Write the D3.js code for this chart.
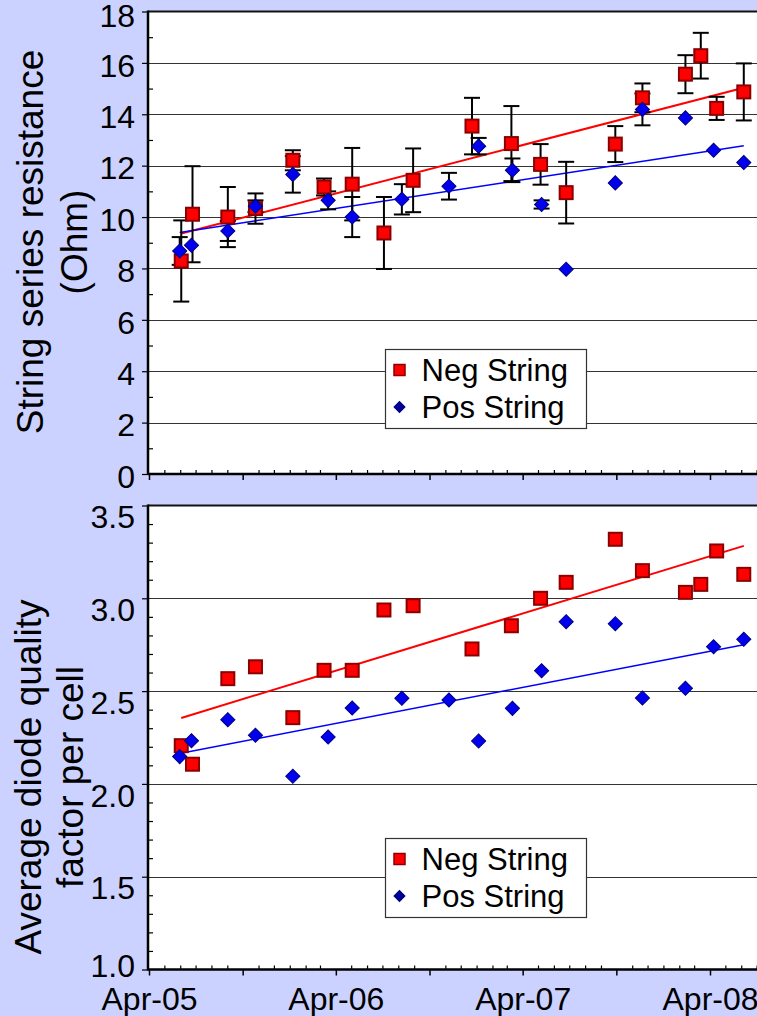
<!DOCTYPE html>
<html><head><meta charset="utf-8">
<script src="https://cdn.jsdelivr.net/npm/d3@7"></script>
<style>html,body{margin:0;padding:0;background:#CCD2FF;} svg{display:block;}</style>
</head><body><svg id="c" width="757" height="1016"></svg>
<script>
// ---------------- data ----------------
const seriesNames = ["Neg String", "Pos String"];
const negDates = ["2005-06-03","2005-06-25","2005-09-02","2005-10-26","2006-01-07","2006-03-09","2006-05-03","2006-07-04","2006-08-30","2006-12-23","2007-03-10","2007-05-06","2007-06-25","2007-09-29","2007-11-21","2008-02-13","2008-03-14","2008-04-14","2008-06-06"];
const negResistance = [8.29,10.11,10.0,10.33,12.21,11.17,11.28,9.38,11.43,13.54,12.86,12.05,10.95,12.84,14.64,15.56,16.28,14.23,14.87];
const negResistanceErr = [1.58,1.87,1.17,0.59,0.39,0.33,1.41,1.40,1.24,1.10,1.46,0.79,1.20,0.70,0.56,0.74,0.89,0.45,1.11];
const negDiode = [2.206,2.106,2.567,2.631,2.357,2.612,2.612,2.937,2.960,2.727,2.852,3.0,3.086,3.318,3.149,3.032,3.075,3.255,3.129];

const posDates = ["2005-05-31","2005-06-23","2005-09-02","2005-10-26","2006-01-07","2006-03-17","2006-05-03","2006-08-08","2006-11-08","2007-01-05","2007-03-12","2007-05-08","2007-06-25","2007-09-29","2007-11-21","2008-02-13","2008-04-08","2008-06-06"];
const posResistance = [8.68,8.90,9.46,10.42,11.66,10.65,10.0,10.69,11.2,12.76,11.82,10.49,7.97,11.33,14.19,13.86,12.6,12.12];
const posResistanceErr = [0.54,0,0.39,0.23,0.71,0.35,0.78,0.59,0.52,0.32,0.46,0.16,0,0,0.62,0,0,0];
const posDiode = [2.147,2.233,2.346,2.262,2.041,2.253,2.409,2.461,2.452,2.231,2.407,2.610,2.874,2.863,2.463,2.515,2.739,2.779];

const resistanceTicks = [0,2,4,6,8,10,12,14,16,18];
const diodeTicks = [1.0,1.5,2.0,2.5,3.0,3.5];
const xTickLabels = ["Apr-05","Apr-06","Apr-07","Apr-08"];
const resistanceTitle = ["String series resistance","(Ohm)"];
const diodeTitle = ["Average diode quality","factor per cell"];

// ---------------- layout ----------------
const W = 757, H = 1016;
const FONT = "'Liberation Sans', Arial, Helvetica, sans-serif";
const AX = 148; // y-axis line x
const parse = d3.utcParse("%Y-%m-%d");
const parseLbl = d3.utcParse("%b-%y");
const nD = negDates.map(parse), pD = posDates.map(parse);
const labelDates = xTickLabels.map(parseLbl);

const x = d3.scaleUtc().domain([labelDates[0], labelDates[labelDates.length-1]]).range([149, 710]);
const xEnd = x.invert(W + 2);

const svg = d3.select("#c");
svg.append("rect").attr("width", W).attr("height", H).attr("fill", "#CCD2FF");

function regression(xs, ys) {
  const xv = xs.map(d => +d);
  const mx = d3.mean(xv), my = d3.mean(ys);
  let sxy = 0, sxx = 0;
  xv.forEach((v, i) => { sxy += (v - mx) * (ys[i] - my); sxx += (v - mx) * (v - mx); });
  const b = sxy / sxx, a = my - b * mx;
  const x0 = d3.min(xv), x1 = d3.max(xv);
  return [[new Date(x0), a + b * x0], [new Date(x1), a + b * x1]];
}

const panels = [
  { top: 11.5, bottom: 474, domain: [0, 18], ticks: resistanceTicks, minorStep: 1, fmt: d3.format("d"),
    neg: negResistance, pos: posResistance, negErr: negResistanceErr, posErr: posResistanceErr,
    title: resistanceTitle, titleY: 242, titleX: [43, 87], xLabels: false, legendY: 349.5,
    labelPos: yy => Math.max(yy + 2, 15.5) },
  { top: 505.5, bottom: 969.5, domain: [1, 3.5], ticks: diodeTicks, minorStep: 0.1, fmt: d3.format(".1f"),
    neg: negDiode, pos: posDiode, negErr: null, posErr: null,
    title: diodeTitle, titleY: 777, titleX: [41, 83], xLabels: true, legendY: 838.5,
    labelPos: yy => Math.min(yy + 11, 965) }
];

const diamond = d3.symbol(d3.symbolSquare, 100)();

panels.forEach(p => {
  const y = d3.scaleLinear().domain(p.domain).range([p.bottom, p.top]);
  const g = svg.append("g");

  // plot area
  g.append("rect").attr("x", AX).attr("y", p.top).attr("width", W - AX + 5).attr("height", p.bottom - p.top).attr("fill", "#fff");

  // gridlines
  g.selectAll("line.grid").data(p.ticks.filter(t => t > p.domain[0] && t < p.domain[1])).join("line")
    .attr("class", "grid").attr("x1", AX).attr("x2", W + 5)
    .attr("y1", d => Math.round(y(d)) + 0.5).attr("y2", d => Math.round(y(d)) + 0.5)
    .attr("stroke", "#333").attr("stroke-width", 1.2);

  // trend lines
  const line = d3.line().x(d => x(d[0])).y(d => y(d[1]));
  g.append("path").attr("d", line(regression(nD, p.neg))).attr("stroke", "#FF0000").attr("stroke-width", 2).attr("fill", "none");
  g.append("path").attr("d", line(regression(pD, p.pos))).attr("stroke", "#0000FF").attr("stroke-width", 1.5).attr("fill", "none");

  // error bars
  const errData = [];
  if (p.negErr) p.neg.forEach((v, i) => { if (p.negErr[i] > 0) errData.push([nD[i], v, p.negErr[i]]); });
  if (p.posErr) p.pos.forEach((v, i) => { if (p.posErr[i] > 0) errData.push([pD[i], v, p.posErr[i]]); });
  const eg = g.append("g").attr("stroke", "#000").attr("stroke-width", 2).attr("fill", "none");
  errData.forEach(d => {
    const cx = x(d[0]), yt = y(d[1] + d[2]), yb = y(d[1] - d[2]);
    eg.append("line").attr("x1", cx).attr("x2", cx).attr("y1", yt).attr("y2", yb);
    eg.append("line").attr("x1", cx - 8).attr("x2", cx + 8).attr("y1", yt).attr("y2", yt);
    eg.append("line").attr("x1", cx - 8).attr("x2", cx + 8).attr("y1", yb).attr("y2", yb);
  });

  // markers
  g.selectAll("rect.neg").data(p.neg).join("rect").attr("class", "neg")
    .attr("x", (d, i) => x(nD[i]) - 6.5).attr("y", d => y(d) - 6.5)
    .attr("width", 13).attr("height", 13)
    .attr("fill", "#FF0000").attr("stroke", "#8B0000").attr("stroke-width", 2);
  g.selectAll("path.pos").data(p.pos).join("path").attr("class", "pos")
    .attr("d", diamond)
    .attr("transform", (d, i) => `translate(${x(pD[i])},${y(d)}) rotate(45)`)
    .attr("fill", "#0000EE").attr("stroke", "#000080").attr("stroke-width", 1);

  // frame
  g.append("line").attr("x1", AX).attr("x2", W + 5).attr("y1", p.top).attr("y2", p.top).attr("stroke", "#111").attr("stroke-width", 2);
  g.append("line").attr("x1", AX).attr("x2", AX).attr("y1", p.top - 1).attr("y2", p.bottom + 1).attr("stroke", "#000").attr("stroke-width", 2.5);
  g.append("line").attr("x1", AX).attr("x2", W + 5).attr("y1", p.bottom).attr("y2", p.bottom).attr("stroke", "#000").attr("stroke-width", 2.5);

  // y axis: minor ticks (inside)
  const minor = d3.range(p.domain[0], p.domain[1] + 1e-9, p.minorStep).map(v => +v.toFixed(3))
    .filter(v => !p.ticks.some(t => Math.abs(t - v) < 1e-6));
  g.append("g").attr("transform", `translate(${AX},0)`)
    .call(d3.axisLeft(y).tickValues(minor).tickSize(-5).tickFormat(""))
    .call(a => a.select(".domain").remove())
    .selectAll("line").attr("stroke", "#000").attr("stroke-width", 1.2);

  // y axis: major ticks + labels
  const ya = g.append("g").attr("transform", `translate(${AX},0)`)
    .call(d3.axisLeft(y).tickValues(p.ticks).tickSize(6).tickPadding(7).tickFormat(p.fmt));
  ya.select(".domain").remove();
  ya.selectAll("line").attr("stroke", "#000").attr("stroke-width", 1.2);
  ya.selectAll("text").attr("font-family", FONT).attr("font-size", 32).attr("fill", "#000")
    .attr("dy", "0.35em")
    .attr("y", d => p.labelPos(y(d)) - y(d));

  // x axis ticks
  const months = d3.utcMonth.range(x.domain()[0], xEnd);
  const majors = months.filter(m => m.getUTCMonth() % 6 === 3);
  const minors = months.filter(m => m.getUTCMonth() % 6 !== 3);
  g.append("g").attr("transform", `translate(0,${p.bottom})`)
    .call(d3.axisBottom(x).tickValues(minors).tickSize(-4).tickFormat(""))
    .call(a => a.select(".domain").remove())
    .selectAll("line").attr("stroke", "#000").attr("stroke-width", 1.2);
  const xa = g.append("g").attr("transform", `translate(0,${p.bottom})`)
    .call(d3.axisBottom(x).tickValues(majors).tickSize(6).tickPadding(12)
      .tickFormat(d => { const i = labelDates.findIndex(l => +l === +d); return (p.xLabels && i >= 0) ? xTickLabels[i] : ""; }));
  xa.select(".domain").remove();
  xa.selectAll("line").attr("stroke", "#000").attr("stroke-width", 1.5);
  xa.selectAll("text").attr("font-family", FONT).attr("font-size", 32).attr("fill", "#000").attr("dy", "0.71em");

  // y title
  p.title.forEach((t, i) => {
    svg.append("text").text(t)
      .attr("transform", `translate(${p.titleX[i]},${p.titleY}) rotate(-90)`)
      .attr("text-anchor", "middle").attr("font-family", FONT).attr("font-size", 37).attr("fill", "#000");
  });

  // legend
  const lg = svg.append("g").attr("transform", `translate(385.5,${p.legendY})`);
  lg.append("rect").attr("width", 201).attr("height", 79).attr("fill", "#fff").attr("stroke", "#333").attr("stroke-width", 1.2);
  const rows = [20.5, 57.5];
  lg.append("rect").attr("x", 14 - 5.5).attr("y", rows[0] - 5.5).attr("width", 11).attr("height", 11)
    .attr("fill", "#FF0000").attr("stroke", "#8B0000").attr("stroke-width", 1.5);
  lg.append("path").attr("d", d3.symbol(d3.symbolSquare, 60)()).attr("transform", `translate(14,${rows[1]}) rotate(45)`)
    .attr("fill", "#000099").attr("stroke", "#000080").attr("stroke-width", 1);
  seriesNames.forEach((s, i) => {
    lg.append("text").text(s).attr("x", 36).attr("y", rows[i]).attr("dy", "0.35em")
      .attr("font-family", FONT).attr("font-size", 31).attr("fill", "#000");
  });
});
</script></body></html>
